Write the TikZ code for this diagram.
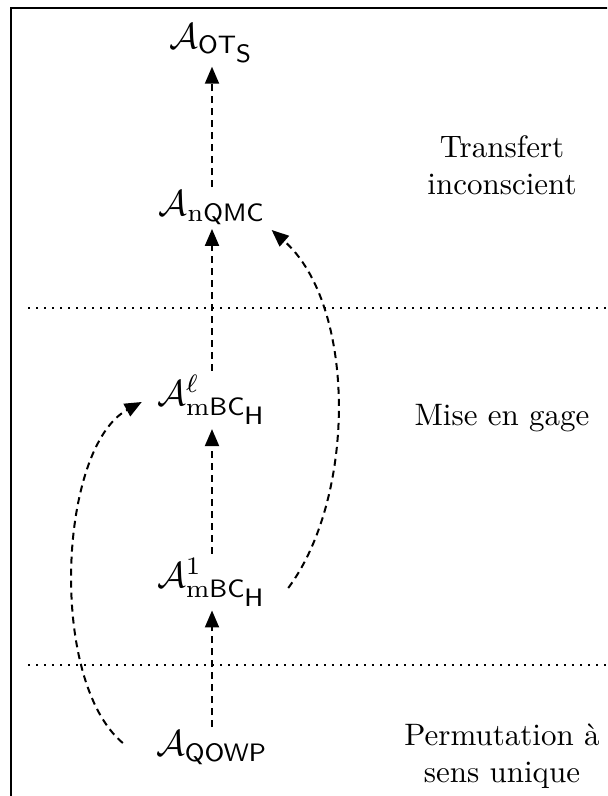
\documentclass[tikz,border=0pt]{standalone}
\usetikzlibrary{arrows.meta}
% sans-serif script letter kept at the size of the surrounding subscript
\newcommand{\subsf}[1]{{\scriptstyle\mathsf{#1}}}
\begin{document}
\begin{tikzpicture}[x=0.5pt,y=-0.5pt,
  mathnode/.style={scale=1.8, inner sep=1pt},
  lab/.style={scale=1.55, align=center},
  link/.style={line width=1pt, dash pattern=on 3.5pt off 2.5pt,
    -{Triangle[length=8.5pt,width=7pt]}},
  sep/.style={line width=1pt, dash pattern=on 1pt off 3pt}]
\useasboundingbox (0,0) rectangle (607,796);
\clip (0,0) rectangle (607,796);
% outer frame, running past the right and bottom edges
\draw[line width=1.1pt] (11,8) rectangle (650,850);

% layer separators
\coordinate (s1a) at (28,308);  \coordinate (s1b) at (607,308);
\coordinate (s2a) at (28,665);  \coordinate (s2b) at (607,665);
\draw[sep] (s1a) -- (s1b);
\draw[sep] (s2a) -- (s2b);

% primitives
\node[mathnode] (ots)  at (212,43)  {$\mathcal{A}_{\mathsf{OT}_{\subsf{S}}}$};
\node[mathnode] (nqmc) at (212,208) {$\mathcal{A}_{\mathrm{n}\mathsf{QMC}}$};
\node[mathnode] (mbcl) at (212,400) {$\mathcal{A}^{\ell}_{\mathrm{m}\mathsf{BC}_{\subsf{H}}}$};
\node[mathnode] (mbco) at (212,582) {$\mathcal{A}^{1}_{\mathrm{m}\mathsf{BC}_{\subsf{H}}}$};
\node[mathnode] (qowp) at (212,748) {$\mathcal{A}_{\mathsf{QOWP}}$};

% layer names
\node[lab] (l1) at (502,165) {Transfert\\inconscient};
\node[lab] (l2) at (502,418) {Mise en gage};
\node[lab] (l3) at (502,756) {Permutation à\\sens unique};

% reductions
\draw[link] (qowp.north) -- (mbco.south);
\draw[link] (mbco.north) -- (mbcl.south);
\draw[link] (mbcl.north) -- (nqmc.south);
\draw[link] (nqmc.north) -- (ots.south);
\draw[link] ([shift={(-14.5pt,2.5pt)}]qowp.west) .. controls +(-75,-63) and +(-83,45) .. ([shift={(-5.5pt,-1pt)}]mbcl.west);
\draw[link] ([shift={(8.5pt,-3pt)}]mbco.east) .. controls +(68,-91) and +(85,75) .. ([shift={(1pt,-11pt)}]nqmc.east);
\end{tikzpicture}
\end{document}
